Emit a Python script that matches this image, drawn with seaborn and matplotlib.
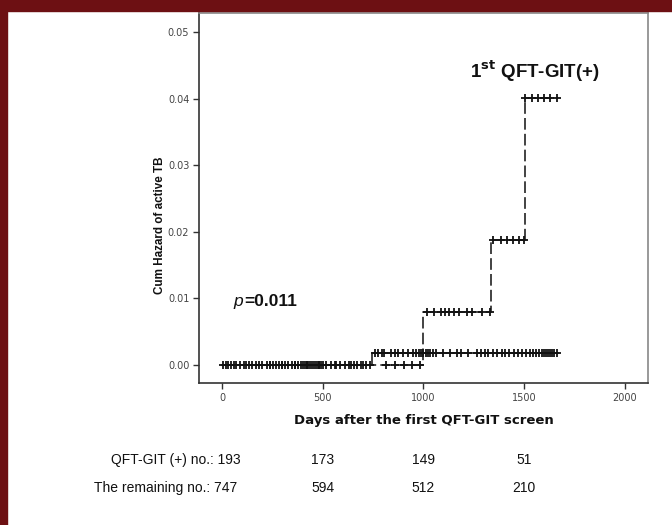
import matplotlib
matplotlib.use("Agg")
import matplotlib.pyplot as plt
import seaborn as sns
import pandas as pd
from matplotlib.patches import Rectangle

# ---- data ----
pos_times = [0, 1000, 1335, 1503, 1665]
pos_hazard = [0.0, 0.0079, 0.0188, 0.0402, 0.0402]
rem_times = [0, 743, 1665]
rem_hazard = [0.0, 0.0018, 0.0018]

pos_cens_0 = [20, 60, 110, 170, 240, 300, 360, 420, 480, 560, 640, 700,
              815, 860, 905, 945, 985]
pos_cens_1 = [1015, 1050, 1085, 1105, 1125, 1150, 1175, 1215, 1240, 1290, 1330]
pos_cens_2 = [1345, 1385, 1415, 1445, 1475, 1500]
pos_cens_3 = [1505, 1540, 1570, 1600, 1630, 1660]

rem_cens_0 = [5, 30, 45, 70, 90, 120, 135, 150, 185, 200, 225, 240, 255, 270,
              285, 300, 315, 330, 345, 360, 375, 390, 400, 410, 420, 430, 440,
              450, 460, 470, 480, 490, 500, 515, 540, 565, 585, 610, 630, 655,
              670, 690, 715, 735]
rem_cens_1 = [760, 775, 795, 805, 840, 860, 875, 900, 925, 950, 965, 980, 990,
              1000, 1010, 1020, 1030, 1045, 1060, 1095, 1130, 1165, 1185, 1220,
              1265, 1285, 1305, 1320, 1345, 1365, 1390, 1405, 1425, 1450, 1470,
              1490, 1510, 1530, 1545, 1560, 1575, 1590, 1600, 1610, 1620, 1630,
              1640, 1650, 1662]

xticks = [0, 500, 1000, 1500, 2000]
yticks = [0.00, 0.01, 0.02, 0.03, 0.04, 0.05]
ytick_labels = ["0.00", "0.01", "0.02", "0.03", "0.04", "0.05"]

risk_pos = [193, 173, 149, 51]
risk_rem = [747, 594, 512, 210]
risk_days = [0, 500, 1000, 1500]

# ---- style ----
sns.set_style("white")
plt.rcParams['font.family'] = ['Liberation Sans', 'DejaVu Sans']

fig = plt.figure(figsize=(6.72, 5.25), dpi=100)
fig.patches.append(Rectangle((0, 0), 7 / 672, 1, transform=fig.transFigure,
                             color='#6d1013', zorder=0))
fig.patches.append(Rectangle((0, 1 - 11 / 525), 1, 11 / 525, transform=fig.transFigure,
                             color='#6d1013', zorder=0))

ax = fig.add_axes([199 / 672, 1 - 383 / 525, 449 / 672, 370 / 525])

df_pos = pd.DataFrame({"t": pos_times, "h": pos_hazard})
df_rem = pd.DataFrame({"t": rem_times, "h": rem_hazard})

sns.lineplot(data=df_rem, x="t", y="h", ax=ax, drawstyle="steps-post",
             color="#222222", lw=1.2, estimator=None, sort=False)
sns.lineplot(data=df_pos, x="t", y="h", ax=ax, drawstyle="steps-post",
             color="#222222", lw=1.2, estimator=None, sort=False,
             dashes=False, linestyle=(0, (7, 2.5)))

def level(times, tlist, hlist):
    out = []
    for t in times:
        v = hlist[0]
        for tt, hh in zip(tlist, hlist):
            if t >= tt:
                v = hh
        out.append(v)
    return out

cx = pos_cens_0 + pos_cens_1 + pos_cens_2 + pos_cens_3
cy = level(cx, pos_times, pos_hazard)
rx = rem_cens_0 + rem_cens_1
ry = level(rx, rem_times, rem_hazard)
cens = pd.DataFrame({"t": cx + rx, "h": cy + ry})
sns.scatterplot(data=cens, x="t", y="h", ax=ax, marker="+", s=26,
                color="#111111", linewidth=1.3, zorder=3)

ax.set_xlim(-114, 2114)
ax.set_ylim(-0.0027, 0.0529)
ax.set_xticks(xticks)
ax.set_xticklabels([str(v) for v in xticks], family='DejaVu Sans')
ax.set_yticks(yticks)
ax.set_yticklabels(ytick_labels, family='DejaVu Sans')
ax.tick_params(axis='both', which='both', direction='out', length=4, width=1.0,
               color='#333333', labelsize=7, labelcolor='#444444',
               bottom=True, left=True, pad=3)
for side in ['left', 'bottom']:
    ax.spines[side].set_color('#333333')
    ax.spines[side].set_linewidth(1.2)
for side in ['top', 'right']:
    ax.spines[side].set_color('#888888')
    ax.spines[side].set_linewidth(1.2)

ax.set_xlabel("Days after the first QFT-GIT screen", family='DejaVu Sans',
              fontweight='bold', fontsize=9.5, color='#111111', labelpad=8)
ax.set_ylabel("Cum Hazard of active TB", fontweight='bold', fontsize=8.4,
              color='#111111')
ax.yaxis.set_label_coords(-0.073, 0.427)

ax.text(1231, 0.0422, r"1$^{\mathbf{st}}$ QFT-GIT(+)", fontsize=13.5,
        fontweight='bold', ha='left', va='bottom', color='#111111')
ax.text(55, 0.0095, "p", fontsize=12.5, style='italic', ha='left',
        va='center', color='#111111')
ax.text(110, 0.0095, "=0.011", fontsize=12.5, fontweight='bold', ha='left',
        va='center', color='#111111')

# number at risk table
def fx(d):
    return 222 + d * 0.2015

fig.text(241 / 672, 1 - 460 / 525, f"QFT-GIT (+) no.: {risk_pos[0]}",
         fontsize=10, ha='right', va='center', color='#111111')
fig.text(237 / 672, 1 - 488 / 525, f"The remaining no.: {risk_rem[0]}",
         fontsize=10, ha='right', va='center', color='#111111')
for d, a, b in zip(risk_days[1:], risk_pos[1:], risk_rem[1:]):
    fig.text(fx(d) / 672, 1 - 460 / 525, str(a), fontsize=10, ha='center',
             va='center', color='#111111')
    fig.text(fx(d) / 672, 1 - 488 / 525, str(b), fontsize=10, ha='center',
             va='center', color='#111111')

fig.savefig("out.png", dpi=100, facecolor='white')
